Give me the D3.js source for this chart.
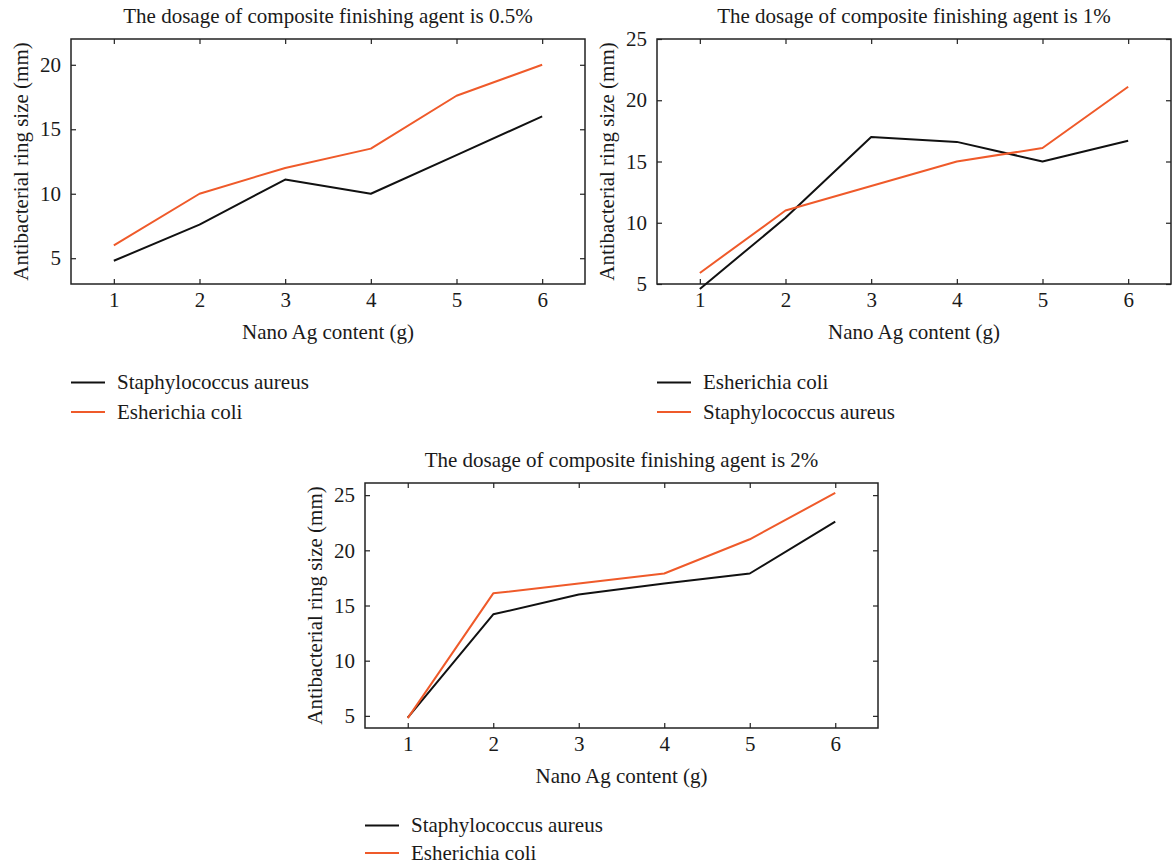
<!DOCTYPE html>
<html>
<head>
<meta charset="utf-8">
<script src="https://cdn.jsdelivr.net/npm/d3@7"></script>
<style>
  body { margin: 0; background: #fff; }
  svg text { font-family: "Liberation Serif", "DejaVu Serif", serif; fill: #1a1a1a; }
</style>
</head>
<body>
<div id="chart"></div>
<script>
// x values shared by all panels
var nanoAg = [1, 2, 3, 4, 5, 6];

// panel 1 - dosage 0.5%
var p1Staph = [4.8, 7.6, 11.1, 10, 13, 16];
var p1Ecoli = [6, 10, 12, 13.5, 17.6, 20];
// panel 2 - dosage 1%
var p2Ecoli = [4.6, 10.4, 17, 16.6, 15, 16.7];
var p2Staph = [5.9, 11, 13, 15, 16.1, 21.1];
// panel 3 - dosage 2%
var p3Staph = [4.85, 14.2, 16, 17, 17.9, 22.6];
var p3Ecoli = [4.8, 16.1, 17, 17.9, 21, 25.2];

var titles = [
  "The dosage of composite finishing agent is 0.5%",
  "The dosage of composite finishing agent is 1%",
  "The dosage of composite finishing agent is 2%"
];
var yTicks1 = [5, 10, 15, 20];
var yTicks2 = [5, 10, 15, 20, 25];
var yTicks3 = [5, 10, 15, 20, 25];

var xLabel = "Nano Ag content (g)";
var yLabel = "Antibacterial ring size (mm)";

var BLACK = "#111111", ORANGE = "#ef5a2a";
var FS = 21;

var svg = d3.select("#chart").append("svg")
  .attr("width", 1172)
  .attr("height", 865);

function drawPanel(cfg) {
  var x = d3.scaleLinear().domain([0.5, 6.5]).range([cfg.left, cfg.right]);
  var y = d3.scaleLinear().domain(cfg.yDomain).range([cfg.bottom, cfg.top]);
  var g = svg.append("g");

  // title
  g.append("text")
    .attr("x", (cfg.left + cfg.right) / 2)
    .attr("y", cfg.top - 16)
    .attr("text-anchor", "middle")
    .attr("font-size", FS)
    .text(cfg.title);

  // axes, ticks pointing inside
  var axB = g.append("g").attr("transform", "translate(0," + cfg.bottom + ")")
    .call(d3.axisBottom(x).tickValues(nanoAg).tickSize(-5).tickSizeOuter(0).tickPadding(8).tickFormat(d3.format("d")));
  var axT = g.append("g").attr("transform", "translate(0," + cfg.top + ")")
    .call(d3.axisTop(x).tickValues(nanoAg).tickSize(-5).tickSizeOuter(0).tickFormat(""));
  var axL = g.append("g").attr("transform", "translate(" + cfg.left + ",0)")
    .call(d3.axisLeft(y).tickValues(cfg.yTicks).tickSize(-5).tickSizeOuter(0).tickPadding(10).tickFormat(d3.format("d")));
  var axR = g.append("g").attr("transform", "translate(" + cfg.right + ",0)")
    .call(d3.axisRight(y).tickValues(cfg.yTicks).tickSize(-5).tickSizeOuter(0).tickFormat(""));

  [axB, axT, axL, axR].forEach(function(a) {
    a.select(".domain").remove();
    a.selectAll("line").attr("stroke", "#222").attr("stroke-width", 1.2);
    a.selectAll("text").attr("font-size", FS)
      .attr("font-family", "Liberation Serif, DejaVu Serif, serif").attr("fill", "#1a1a1a");
  });

  // frame
  g.append("rect")
    .attr("x", cfg.left).attr("y", cfg.top)
    .attr("width", cfg.right - cfg.left).attr("height", cfg.bottom - cfg.top)
    .attr("fill", "none").attr("stroke", "#222").attr("stroke-width", 1.5);

  // lines
  var line = d3.line().x(function(d) { return x(d[0]); }).y(function(d) { return y(d[1]); });
  cfg.series.forEach(function(s) {
    g.append("path")
      .datum(d3.zip(nanoAg, s.values))
      .attr("d", line)
      .attr("fill", "none")
      .attr("stroke", s.color)
      .attr("stroke-width", 2)
      .attr("stroke-linejoin", "round");
  });

  // axis labels
  g.append("text")
    .attr("x", (cfg.left + cfg.right) / 2)
    .attr("y", cfg.bottom + 55)
    .attr("text-anchor", "middle")
    .attr("font-size", FS)
    .text(xLabel);

  g.append("text")
    .attr("transform", "translate(" + (cfg.left - 43) + "," + ((cfg.top + cfg.bottom) / 2) + ") rotate(-90)")
    .attr("text-anchor", "middle")
    .attr("font-size", FS)
    .text(yLabel);

  // legend
  cfg.series.forEach(function(s, i) {
    var ly = cfg.legendY + i * cfg.legendGap;
    g.append("line")
      .attr("x1", cfg.left).attr("x2", cfg.left + 34)
      .attr("y1", ly).attr("y2", ly)
      .attr("stroke", s.color).attr("stroke-width", 2);
    g.append("text")
      .attr("x", cfg.left + 46)
      .attr("y", ly)
      .attr("dy", "0.33em")
      .attr("font-size", FS)
      .text(s.name);
  });
}

drawPanel({
  left: 71, right: 585, top: 39, bottom: 284,
  yDomain: [3, 22], yTicks: yTicks1, title: titles[0], legendY: 382.5, legendGap: 29.5,
  series: [
    { name: "Staphylococcus aureus", values: p1Staph, color: BLACK },
    { name: "Esherichia coli", values: p1Ecoli, color: ORANGE }
  ]
});

drawPanel({
  left: 657, right: 1171, top: 39, bottom: 284,
  yDomain: [5, 25], yTicks: yTicks2, title: titles[1], legendY: 382.5, legendGap: 29.5,
  series: [
    { name: "Esherichia coli", values: p2Ecoli, color: BLACK },
    { name: "Staphylococcus aureus", values: p2Staph, color: ORANGE }
  ]
});

drawPanel({
  left: 365, right: 878, top: 483, bottom: 728,
  yDomain: [3.9, 26.1], yTicks: yTicks3, title: titles[2], legendY: 825.5, legendGap: 27.5,
  series: [
    { name: "Staphylococcus aureus", values: p3Staph, color: BLACK },
    { name: "Esherichia coli", values: p3Ecoli, color: ORANGE }
  ]
});
</script>
</body>
</html>
